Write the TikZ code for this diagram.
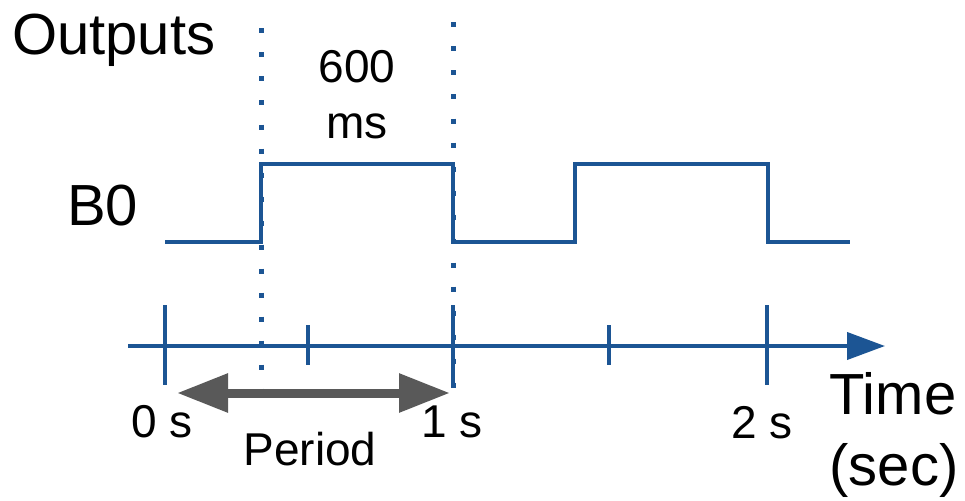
\documentclass[tikz,border=0pt]{standalone}
\usepackage{fontspec}
\setmainfont{Liberation Sans}
\usepackage{tikz}
\usetikzlibrary{arrows.meta}
\definecolor{sigblue}{RGB}{28,85,148}
\definecolor{pergray}{RGB}{89,89,89}

\begin{document}
\begin{tikzpicture}[
  x=1pt, y=-1pt,
  big/.style={inner sep=0pt, font=\fontsize{58}{66}\selectfont},
  small/.style={inner sep=0pt, font=\fontsize{46}{55}\selectfont},
  sig/.style={sigblue, line width=4pt, line join=miter},
  dots/.style={sigblue, line width=5pt, dash pattern=on 5pt off 19pt},
  majtick/.style={sigblue, line width=4pt},
  axis/.style={sigblue, line width=4pt, -{Triangle[length=38pt, width=27pt]}},
  per/.style={pergray, line width=9pt, {Triangle[length=51pt, width=37pt]}-{Triangle[length=51pt, width=37pt]}}
]
\useasboundingbox (0,0) rectangle (965,500);

% labels
\node[big, anchor=base west] (Outputs) at (12,55) {Outputs};
\node[big, anchor=base west] (B0) at (67,225) {B0};
\node[small, anchor=base] (Six) at (357,83) {600};
\node[small, anchor=base] (Ms) at (357,138) {ms};
\node[small, anchor=base] (T0) at (162,437) {0 s};
\node[small, anchor=base] (T1) at (452,437) {1 s};
\node[small, anchor=base] (T2) at (762,438) {2 s};
\node[small, anchor=base] (Period) at (310,465) {Period};
\node[big, anchor=base] (Time) at (893,414) {Time};
\node[big, anchor=base] (Sec) at (894,485) {(sec)};

% signal B0
\coordinate (s0) at (165,242);
\coordinate (s1) at (261,242);
\coordinate (s2) at (261,164);
\coordinate (s3) at (453,164);
\coordinate (s4) at (453,242);
\coordinate (s5) at (575,242);
\coordinate (s6) at (575,164);
\coordinate (s7) at (768,164);
\coordinate (s8) at (768,242);
\coordinate (s9) at (850,242);
\draw[sig] (s0) -- (s1) -- (s2) -- (s3) -- (s4) -- (s5) -- (s6) -- (s7) -- (s8) -- (s9);

% dotted period marks
\draw[dots] (261,28.5) -- (261,392);
\draw[dots] (453,22.5) -- (453,392);

% time axis
\coordinate (ax0) at (128,346);
\coordinate (ax1) at (885,346);
\draw[axis] (ax0) -- (ax1);
\foreach \x in {165,453,767}
  \draw[majtick] (\x,305) -- (\x,385);
\foreach \x in {308,609}
  \draw[majtick] (\x,325) -- (\x,365);

% period arrow
\coordinate (pl) at (177,393);
\coordinate (pr) at (450,393);
\draw[per] (pl) -- (pr);
\end{tikzpicture}
\end{document}
